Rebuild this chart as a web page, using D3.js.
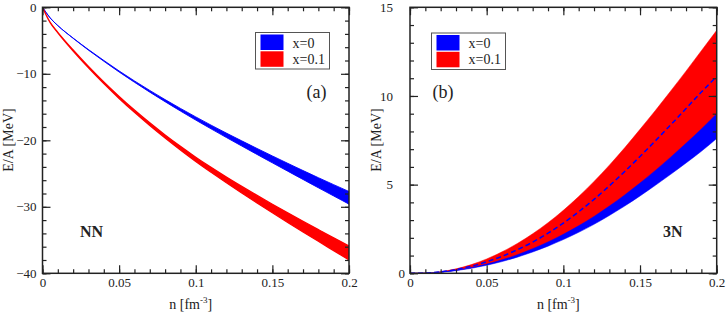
<!DOCTYPE html>
<html>
<head>
<meta charset="utf-8">
<script src="https://cdn.jsdelivr.net/npm/d3@7"></script>
<style>
  body { margin: 0; background: #fff; }
  text { font-family: 'Liberation Serif', 'Times New Roman', serif; fill: #222; }
</style>
</head>
<body>
<script>
// density grid [fm^-3]
var nGrid = [0, 0.005, 0.01, 0.02, 0.03, 0.04, 0.05, 0.06, 0.07, 0.08, 0.09, 0.1,
             0.11, 0.12, 0.13, 0.14, 0.15, 0.16, 0.17, 0.18, 0.19, 0.2];

// (a) NN, E/A [MeV]
var nnBlueHi = [0, -1.6, -2.75, -4.63, -6.36, -7.99, -9.57, -11.07, -12.5, -13.88, -15.2, -16.48,
                -17.72, -18.92, -20.08, -21.23, -22.35, -23.46, -24.55, -25.62, -26.67, -27.7];
var nnBlueLo = [0, -1.6, -2.75, -4.67, -6.44, -8.11, -9.73, -11.27, -12.76, -14.2, -15.6, -16.96,
                -18.28, -19.58, -20.86, -22.13, -23.39, -24.64, -25.89, -27.14, -28.37, -29.6];
var nnRedHi = [0, -2.28, -3.76, -6.42, -8.9, -11.23, -13.4, -15.45, -17.37, -19.19, -20.91, -22.54,
               -24.07, -25.53, -26.93, -28.29, -29.62, -30.91, -32.18, -33.43, -34.67, -35.89];
var nnRedLo = [0, -2.32, -3.84, -6.58, -9.1, -11.47, -13.7, -15.79, -17.77, -19.65, -21.45, -23.18,
               -24.81, -26.39, -27.93, -29.43, -30.9, -32.35, -33.78, -35.19, -36.59, -37.99];

// (b) 3N, E/A [MeV]
var tnBlueLo = [0, 0.003, 0.01, 0.06, 0.15, 0.28, 0.45, 0.66, 0.91, 1.2, 1.53, 1.9,
                2.31, 2.76, 3.26, 3.79, 4.36, 4.96, 5.58, 6.22, 6.88, 7.6];
var tnBlueHi = [0, 0.004, 0.01, 0.07, 0.18, 0.33, 0.52, 0.76, 1.05, 1.39, 1.77, 2.2,
                2.68, 3.21, 3.79, 4.42, 5.09, 5.8, 6.55, 7.33, 8.14, 9.0];
var tnRedLo = [0, 0.003, 0.01, 0.065, 0.17, 0.31, 0.49, 0.72, 1.0, 1.32, 1.68, 2.09,
               2.55, 3.05, 3.6, 4.2, 4.84, 5.51, 6.22, 6.96, 7.73, 8.55];
var tnRedHi = [0, 0.004, 0.01, 0.09, 0.25, 0.49, 0.81, 1.21, 1.68, 2.23, 2.85, 3.55,
               4.33, 5.18, 6.1, 7.08, 8.12, 9.18, 10.28, 11.4, 12.55, 13.7];
var tnDash = [0, 0.003, 0.01, 0.08, 0.21, 0.4, 0.65, 0.96, 1.33, 1.76, 2.26, 2.83,
              3.47, 4.17, 4.93, 5.74, 6.59, 7.47, 8.37, 9.29, 10.22, 11.1];

var xTicks = [0, 0.05, 0.1, 0.15, 0.2];
var xTickLabels = ['0', '0.05', '0.1', '0.15', '0.2'];
var nnYTicks = [-40, -30, -20, -10, 0];
var tnYTicks = [0, 5, 10, 15];
var legendLabels = ['x=0', 'x=0.1'];
var colors = ['#0000ff', '#ff0000'];

function band(lo, hi) {
  return nGrid.map(function(n, i) { return {n: n, lo: lo[i], hi: hi[i]}; });
}

var svg = d3.select('body')
    .append('svg')
    .attr('width', 727)
    .attr('height', 313);

function drawPanel(p) {
  var x = d3.scaleLinear().domain([0, 0.2]).range([p.left, p.right]);
  var y = d3.scaleLinear().domain(p.yDomain).range([273.3, 7.3]);
  var g = svg.append('g');

  g.append('clipPath').attr('id', 'clip' + p.id)
    .append('rect')
    .attr('x', p.left).attr('y', 7.3)
    .attr('width', p.right - p.left).attr('height', 266);

  var area = d3.area()
      .x(function(d) { return x(d.n); })
      .y0(function(d) { return y(d.lo); })
      .y1(function(d) { return y(d.hi); })
      .curve(d3.curveMonotoneX);

  var plot = g.append('g').attr('clip-path', 'url(#clip' + p.id + ')');
  p.bands.forEach(function(b) {
    plot.append('path')
      .attr('d', area(b.data))
      .attr('fill', b.color)
      .attr('stroke', b.color)
      .attr('stroke-width', b.stroke);
  });
  if (p.dash) {
    var line = d3.line()
        .x(function(d, i) { return x(nGrid[i]); })
        .y(function(d) { return y(d); })
        .curve(d3.curveMonotoneX);
    plot.append('path')
      .attr('d', line(p.dash))
      .attr('fill', 'none')
      .attr('stroke', '#0000ff')
      .attr('stroke-width', 1.5)
      .attr('stroke-dasharray', '5,3');
  }

  var minorX = d3.range(0, 0.2001, 0.01);
  var minorY = d3.range(p.yDomain[0], p.yDomain[1] + 0.001, p.yMinor);

  // minor ticks all sides
  g.append('g').attr('transform', 'translate(0,273.3)')
    .call(d3.axisBottom(x).tickValues(minorX).tickSize(-4).tickFormat(''));
  g.append('g').attr('transform', 'translate(0,7.3)')
    .call(d3.axisTop(x).tickValues(minorX).tickSize(-4).tickFormat(''));
  g.append('g').attr('transform', 'translate(' + p.left + ',0)')
    .call(d3.axisLeft(y).tickValues(minorY).tickSize(-4).tickFormat(''));
  g.append('g').attr('transform', 'translate(' + p.right + ',0)')
    .call(d3.axisRight(y).tickValues(minorY).tickSize(-4).tickFormat(''));

  // major ticks
  g.append('g').attr('transform', 'translate(0,273.3)')
    .call(d3.axisBottom(x).tickValues(xTicks).tickSizeInner(-8).tickSizeOuter(0).tickPadding(4)
      .tickFormat(function(d, i) { return xTickLabels[i]; }));
  g.append('g').attr('transform', 'translate(0,7.3)')
    .call(d3.axisTop(x).tickValues(xTicks).tickSize(-8).tickFormat(''));
  var yl = g.append('g').attr('transform', 'translate(' + p.left + ',0)')
    .call(d3.axisLeft(y).tickValues(p.yTicks).tickSizeInner(-8).tickSizeOuter(0).tickPadding(6)
      .tickFormat(d3.format('d')));
  if (p.zeroShift) {
    yl.selectAll('.tick text').attr('x', function(d) { return d === 0 ? -5 : -17; });
  }
  g.append('g').attr('transform', 'translate(' + p.right + ',0)')
    .call(d3.axisRight(y).tickValues(p.yTicks).tickSize(-8).tickFormat(''));

  g.selectAll('.domain').remove();
  g.selectAll('.tick line').attr('stroke', '#222').attr('stroke-width', 1.2);
  g.selectAll('.tick text')
    .attr('font-family', 'Liberation Serif')
    .attr('font-size', 13)
    .attr('fill', '#222');

  g.append('rect')
    .attr('x', p.left).attr('y', 7.3)
    .attr('width', p.right - p.left).attr('height', 266)
    .attr('fill', 'none')
    .attr('stroke', '#222')
    .attr('stroke-width', 1.5);

  // axis titles
  var xt = g.append('text')
    .attr('x', (p.left + p.right) / 2 - 5)
    .attr('y', 309)
    .attr('font-size', 14)
    .attr('text-anchor', 'middle');
  xt.append('tspan').text('n [fm');
  xt.append('tspan').attr('font-size', 9).attr('dy', -6).text('-3');
  xt.append('tspan').attr('dy', 6).text(']');

  g.append('text')
    .attr('transform', 'translate(' + p.yTitleX + ',140) rotate(-90)')
    .attr('font-size', 14)
    .attr('text-anchor', 'middle')
    .text('E/A [MeV]');

  // legend
  var lg = g.append('g').attr('transform', 'translate(' + p.legend[0] + ',' + p.legend[1] + ')');
  lg.append('rect')
    .attr('width', 74).attr('height', 36.5)
    .attr('fill', '#fff')
    .attr('stroke', '#555')
    .attr('stroke-width', 1);
  legendLabels.forEach(function(lab, i) {
    lg.append('rect')
      .attr('x', 5).attr('y', 2 + i * 16.8)
      .attr('width', 23).attr('height', 15.5)
      .attr('fill', colors[i]);
    lg.append('text')
      .attr('x', 37).attr('y', 15 + i * 16)
      .attr('font-size', 14)
      .text(lab);
  });

  g.append('text')
    .attr('x', p.tag[0]).attr('y', p.tag[1])
    .attr('font-size', 18)
    .text(p.tagText);
  g.append('text')
    .attr('x', p.name[0]).attr('y', 236.5)
    .attr('font-size', 16)
    .attr('font-weight', 'bold')
    .text(p.nameText);
}

drawPanel({
  id: 'a', left: 42.5, right: 349, yDomain: [-40, 0], yTicks: nnYTicks, yMinor: 2,
  yTitleX: 12.5, legend: [255.5, 32.5], tag: [306.5, 97.5], tagText: '(a)',
  name: [80, 0], nameText: 'NN',
  bands: [
    {data: band(nnBlueLo, nnBlueHi), color: colors[0], stroke: 0.9},
    {data: band(nnRedLo, nnRedHi), color: colors[1], stroke: 1.3}
  ]
});

drawPanel({
  id: 'b', left: 410, right: 716.7, yDomain: [0, 15], yTicks: tnYTicks, yMinor: 1,
  yTitleX: 380.5, legend: [431.5, 33], tag: [432.5, 97.5], tagText: '(b)',
  name: [663, 0], nameText: '3N', zeroShift: true,
  bands: [
    {data: band(tnRedLo, tnRedHi), color: colors[1], stroke: 0.5},
    {data: band(tnBlueLo, tnBlueHi), color: colors[0], stroke: 0.5}
  ],
  dash: tnDash
});
</script>
</body>
</html>
